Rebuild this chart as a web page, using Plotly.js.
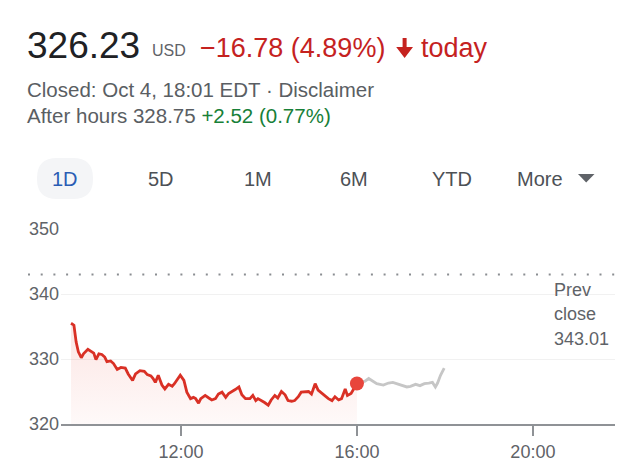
<!DOCTYPE html>
<html>
<head>
<meta charset="utf-8">
<script src="https://cdn.plot.ly/plotly-3.0.1.min.js"></script>
<style>
  html, body { margin: 0; padding: 0; background: #ffffff; }
  #chart { width: 639px; height: 474px; }
</style>
</head>
<body>
<div id="chart"></div>
<script>
// ---- data ----
const tradeDate = '2023-10-04';
const sessionTimes = ['09:30','09:34','09:37','09:40','09:44','09:47','09:53','09:58',
  '10:01','10:04','10:08','10:12','10:16','10:19','10:24','10:28','10:33','10:38','10:44','10:48','10:54','10:58',
  '11:04','11:10','11:14','11:19','11:22','11:25','11:29','11:34','11:38','11:43','11:48','11:51','11:55','11:59',
  '12:04','12:08','12:13','12:17','12:20','12:24','12:27','12:33','12:38','12:42','12:47','12:51','12:56',
  '13:01','13:05','13:10','13:14','13:19','13:23','13:28','13:34','13:38','13:42','13:45','13:50','13:54','13:59',
  '14:03','14:08','14:12','14:17','14:22','14:26','14:31','14:35','14:40','14:44','14:49','14:54','14:58',
  '15:03','15:07','15:12','15:16','15:21','15:26','15:30','15:35','15:39','15:44','15:47','15:52','15:55','16:00'];
const sessionPrices = [335.5,335.2,332.6,331.1,330.2,330.8,331.5,331.1,
  330.9,329.9,330.8,330.7,330.3,329.6,329.7,329.3,328.4,328.7,328.6,327.7,326.7,327.7,
  328.2,328.1,327.6,327.4,327.0,326.4,327.5,326.0,325.4,326.1,325.8,326.2,326.8,327.5,
  326.7,324.9,323.9,324.1,323.9,323.2,323.9,324.4,324.0,323.7,323.9,324.6,324.9,
  324.1,324.7,325.0,325.3,325.7,324.5,323.9,323.9,324.4,323.6,323.9,323.6,323.3,322.9,
  323.7,324.4,324.0,325.0,324.5,323.6,323.5,323.6,324.2,324.9,325.0,325.0,324.6,
  326.2,325.2,324.7,324.4,323.9,323.6,324.2,323.7,323.9,325.4,324.4,324.7,325.2,326.23];
const afterTimes = ['16:00','16:11','16:16','16:21','16:27','16:36','16:43','16:49','16:55','17:02',
  '17:08','17:13','17:20','17:26','17:32','17:38','17:43','17:47','17:50','17:54','17:59'];
const afterPrices = [326.23,326.6,327.0,326.6,326.2,326.0,326.3,326.4,326.2,325.9,
  325.7,325.8,326.1,325.9,326.2,326.3,326.4,325.7,326.3,327.5,328.6];
const prevClose = 343.01;
const closePrice = 326.23;
const yTicks = [320, 330, 340, 350];
const xTickTimes = ['12:00', '16:00', '20:00'];
const xRangeTimes = ['09:16:20', '21:52:00'];
const tabs = ['1D', '5D', '1M', '6M', 'YTD'];

// ---- helpers ----
const toDate = t => tradeDate + ' ' + t;
const M = {l: 61, r: 24, t: 229, b: 50};
const W = 639, H = 474;
const pw = W - M.l - M.r, ph = H - M.t - M.b;
const PX = x => (x - M.l) / pw;
const PY = y => (H - M.b - y) / ph;
const FONT = 'Liberation Sans, Arial, Helvetica, sans-serif';

function polyPath(pts) {
  return 'M' + pts.map(p => PX(p[0]).toFixed(5) + ',' + PY(p[1]).toFixed(5)).join('L') + 'Z';
}
function pillPath(x0, y0, x1, y1, r) {
  const P = (x, y) => PX(x).toFixed(5) + ',' + PY(y).toFixed(5);
  return 'M' + P(x0 + r, y0) + 'L' + P(x1 - r, y0) + 'Q' + P(x1, y0) + ' ' + P(x1, y0 + r) +
    'L' + P(x1, y1 - r) + 'Q' + P(x1, y1) + ' ' + P(x1 - r, y1) +
    'L' + P(x0 + r, y1) + 'Q' + P(x0, y1) + ' ' + P(x0, y1 - r) +
    'L' + P(x0, y0 + r) + 'Q' + P(x0, y0) + ' ' + P(x0 + r, y0) + 'Z';
}
function txt(text, x, y, size, color, anchor) {
  return {text: text, x: PX(x), y: PY(y), xref: 'paper', yref: 'paper',
    xanchor: anchor || 'left', yanchor: 'middle', showarrow: false,
    borderpad: 0, borderwidth: 0,
    font: {family: FONT, size: size, color: color}};
}

// ---- traces ----
const traces = [
  {
    x: sessionTimes.map(toDate), y: sessionPrices, type: 'scatter', mode: 'lines',
    line: {color: '#d93025', width: 2.8, shape: 'linear'},
    fill: 'tozeroy', fillcolor: 'rgba(234,67,53,0.08)',
    fillgradient: {type: 'vertical', start: 320, stop: 336,
      colorscale: [[0, 'rgba(234,67,53,0.03)'], [1, 'rgba(234,67,53,0.14)']]},
    hoverinfo: 'skip'
  },
  {
    x: afterTimes.map(toDate), y: afterPrices, type: 'scatter', mode: 'lines',
    line: {color: '#c6c6c6', width: 2.8}, hoverinfo: 'skip'
  },
  {
    x: [toDate(sessionTimes[sessionTimes.length - 1])], y: [closePrice],
    type: 'scatter', mode: 'markers',
    marker: {color: '#e8453c', size: 14}, hoverinfo: 'skip'
  }
];

// ---- layout ----
const annotations = [
  txt('326.23', 27, 45, 37, '#202124'),
  txt('USD', 152, 50.5, 16, '#5f6368'),
  txt('\u221216.78 (4.89%)', 200, 47.5, 27, '#c5221f'),
  txt('today', 421, 47.5, 27, '#c5221f'),
  txt('Closed: Oct 4, 18:01 EDT \u00b7 Disclaimer', 27, 89, 20.5, '#5a5e63'),
  txt('After hours 328.75 <span style="color:#188038">+2.52 (0.77%)</span>', 27, 115, 20.5, '#5a5e63'),
  txt('More', 517, 179, 20, '#4d5156'),
  txt('Prev', 554, 289.5, 18, '#5f6368'),
  txt('close', 554, 313.5, 18, '#5f6368'),
  txt(prevClose.toFixed(2), 554, 338.5, 18, '#5f6368')
];
const tabCenters = [64.5, 161, 258, 354, 452];
tabs.forEach((t, i) => {
  annotations.push(txt(t, tabCenters[i], 179, 20, i === 0 ? '#2a5db4' : '#4d5156', 'center'));
});

const shapes = [
  {type: 'path', xref: 'paper', yref: 'paper', layer: 'below',
   path: pillPath(37, 158, 93, 199, 20), fillcolor: '#f4f5f7', line: {width: 0}},
  {type: 'path', xref: 'paper', yref: 'paper',
   path: polyPath([[402.6, 38], [406.6, 38], [406.6, 47], [413, 47], [404.6, 58], [396.2, 47], [402.6, 47]]),
   fillcolor: '#c5221f', line: {width: 0}},
  {type: 'path', xref: 'paper', yref: 'paper',
   path: polyPath([[578, 174], [594.5, 174], [586.2, 182.5]]),
   fillcolor: '#5f6368', line: {width: 0}},
  {type: 'line', xref: 'paper', yref: 'y', x0: PX(28), x1: 1, y0: prevClose, y1: prevClose,
   line: {color: '#8a8d91', width: 2, dash: '2px,10.7px'}}
];

const layout = {
  width: W, height: H,
  margin: M,
  paper_bgcolor: '#ffffff', plot_bgcolor: '#ffffff',
  showlegend: false,
  font: {family: FONT, color: '#5f6368'},
  xaxis: {
    type: 'date', range: xRangeTimes.map(toDate),
    tickvals: xTickTimes.map(toDate), tickformat: '%H:%M',
    showgrid: false, zeroline: false,
    showline: true, linecolor: '#8f9296', linewidth: 2,
    ticks: 'outside', ticklen: 10, tickwidth: 2, tickcolor: '#8f9296',
    tickfont: {family: FONT, size: 18, color: '#5f6368'},
    fixedrange: true
  },
  yaxis: {
    range: [320, 350], tickvals: yTicks,
    showgrid: true, gridcolor: '#f1f1f1', gridwidth: 1,
    zeroline: false, showline: false, ticks: '',
    tickfont: {family: FONT, size: 18, color: '#5f6368'},
    ticklabelstandoff: 1,
    fixedrange: true
  },
  annotations: annotations,
  shapes: shapes
};

Plotly.newPlot('chart', traces, layout, {displayModeBar: false, staticPlot: true});
</script>
</body>
</html>
